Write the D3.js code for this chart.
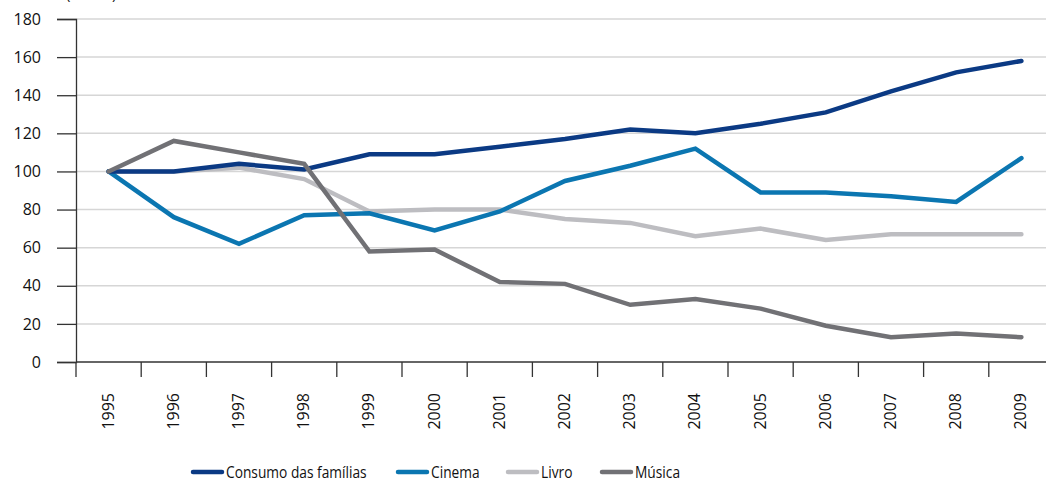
<!DOCTYPE html>
<html>
<head>
<meta charset="utf-8">
<script src="https://cdn.jsdelivr.net/npm/d3@7"></script>
<style>
  body { margin: 0; background: #fff; }
  text { font-family: "Open Sans", "Noto Sans", sans-serif; fill: #111; }
</style>
</head>
<body>
<script>
// categories and series
var years = ['1995','1996','1997','1998','1999','2000','2001','2002','2003','2004','2005','2006','2007','2008','2009'];
var consumo = [100, 100, 104, 101, 109, 109, 113, 117, 122, 120, 125, 131, 142, 152, 158];
var cinema  = [100, 76, 62, 77, 78, 69, 79, 95, 103, 112, 89, 89, 87, 84, 107];
var livro   = [100, 100, 102, 96, 79, 80, 80, 75, 73, 66, 70, 64, 67, 67, 67];
var musica  = [100, 116, 110, 104, 58, 59, 42, 41, 30, 33, 28, 19, 13, 15, 13];
var yTicks  = [0, 20, 40, 60, 80, 100, 120, 140, 160, 180];

var seriesNames = ['Consumo das famílias', 'Cinema', 'Livro', 'Música'];
var seriesColors = ['#0b3a84', '#0b76b1', '#bdbdc1', '#717175'];
var seriesData = [consumo, cinema, livro, musica];

var W = 1046, H = 482;

var svg = d3.select('body').append('svg')
  .attr('width', W)
  .attr('height', H);

// scales
var x = d3.scaleBand().domain(years).range([76, 1054]);
var y = d3.scaleLinear().domain([0, 180]).range([362, 19]);

// unit label (cut off at the top, like the original)
svg.append('text')
  .attr('x', 66).attr('y', -1)
  .style('font-size', '15px')
  .text('(índice)');

// grid lines
svg.append('g').selectAll('line')
  .data(yTicks.filter(function(d) { return d > 0; }))
  .enter().append('line')
  .attr('x1', 76).attr('x2', W)
  .attr('y1', function(d) { return y(d); })
  .attr('y2', function(d) { return y(d); })
  .attr('stroke', '#d6d6d6')
  .attr('stroke-width', 1.5);

// y axis
var yAxis = svg.append('g')
  .attr('transform', 'translate(76,0)')
  .call(d3.axisLeft(y).tickValues(yTicks).tickSize(19).tickPadding(16));
yAxis.select('.domain').attr('stroke', '#333').attr('stroke-width', 1.3);
yAxis.selectAll('.tick line').attr('stroke', '#333').attr('stroke-width', 1.3);
yAxis.selectAll('.tick text')
  .style('font-size', '16px')
  .attr('fill', '#111');

// x axis: ticks at band boundaries
var xg = svg.append('g');
xg.append('line')
  .attr('x1', 76).attr('x2', W)
  .attr('y1', y(0)).attr('y2', y(0))
  .attr('stroke', '#333').attr('stroke-width', 1.3);
xg.selectAll('line.xt')
  .data(years)
  .enter().append('line')
  .attr('class', 'xt')
  .attr('x1', function(d) { return x(d); })
  .attr('x2', function(d) { return x(d); })
  .attr('y1', y(0)).attr('y2', y(0) + 15)
  .attr('stroke', '#333').attr('stroke-width', 1.3);
xg.selectAll('text')
  .data(years)
  .enter().append('text')
  .attr('transform', function(d) {
    return 'translate(' + (x(d) + x.bandwidth() / 2 + 5) + ',' + 393 + ') rotate(-90)';
  })
  .attr('text-anchor', 'end')
  .style('font-size', '16px')
  .text(function(d) { return d; });

// lines
var line = d3.line()
  .x(function(d, i) { return x(years[i]) + x.bandwidth() / 2; })
  .y(function(d) { return y(d); });

// draw order: light first so darker lines sit on top where they meet
var order = [2, 1, 0, 3];
svg.append('g').selectAll('path')
  .data(order)
  .enter().append('path')
  .attr('d', function(k) { return line(seriesData[k]); })
  .attr('fill', 'none')
  .attr('stroke', function(k) { return seriesColors[k]; })
  .attr('stroke-width', 4.5)
  .attr('stroke-linecap', 'round')
  .attr('stroke-linejoin', 'miter');

// legend (text squeezed a bit to mimic the condensed face of the original)
var legendX = [191, 396, 506, 600];
var legend = svg.append('g').selectAll('g')
  .data(seriesNames)
  .enter().append('g')
  .attr('transform', function(d, i) { return 'translate(' + legendX[i] + ',472)'; });
legend.append('line')
  .attr('x1', 2).attr('x2', 31)
  .attr('y1', 0).attr('y2', 0)
  .attr('stroke', function(d, i) { return seriesColors[i]; })
  .attr('stroke-width', 4.5)
  .attr('stroke-linecap', 'round');
legend.append('text')
  .attr('transform', 'translate(35,6) scale(0.86,1)')
  .style('font-size', '16px')
  .text(function(d) { return d; });
</script>
</body>
</html>
